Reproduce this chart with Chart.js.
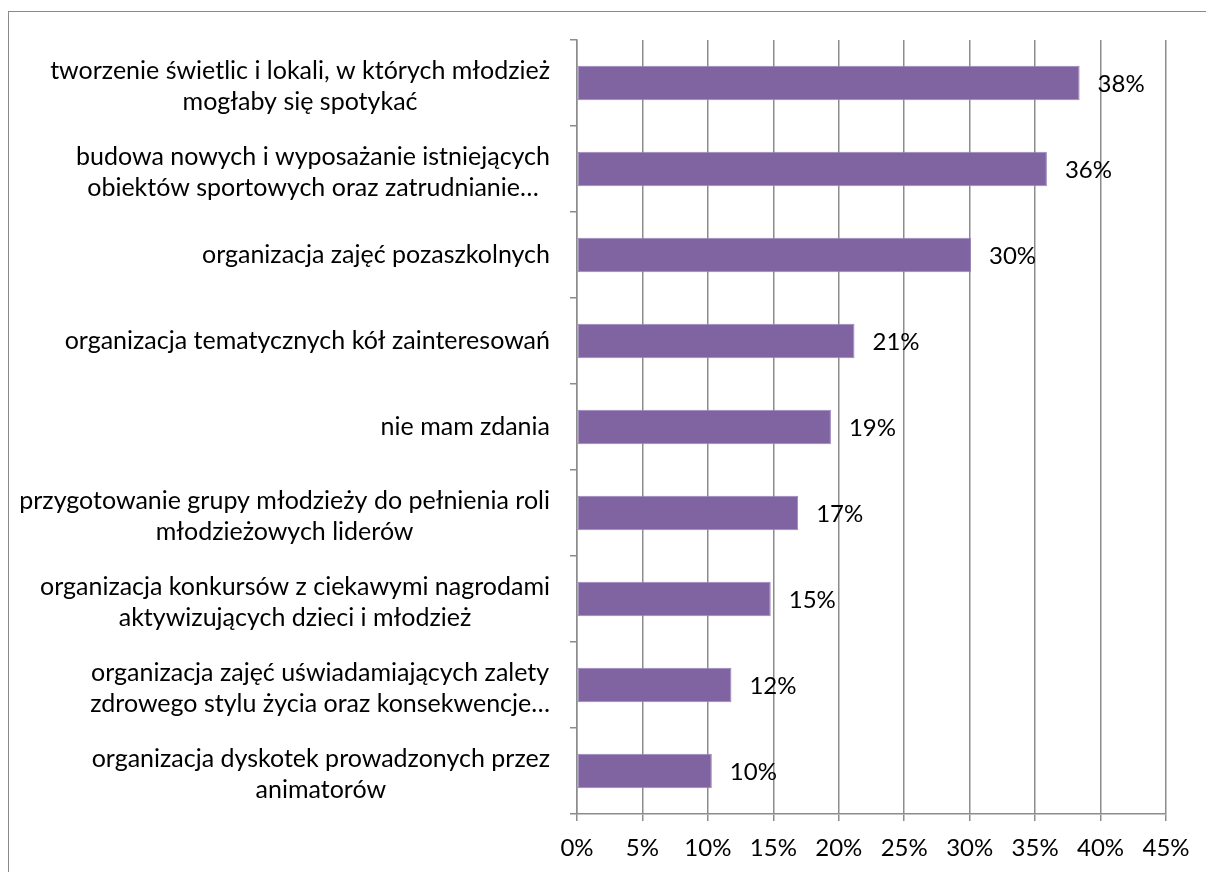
<!DOCTYPE html>
<html>
<head>
<meta charset="utf-8">
<script src="https://cdn.jsdelivr.net/npm/chart.js@4.4.1/dist/chart.umd.min.js"></script>
<style>
  html, body { margin: 0; padding: 0; background: #fff; overflow: hidden; }
  #frame { position: absolute; left: 8px; top: 11px; width: 1400px; height: 1000px; border: 1.5px solid #8a8a8a; }
  #wrap { position: absolute; left: 0; top: 0; width: 1206px; height: 872px; }
</style>
</head>
<body>
<div id="frame"></div>
<div id="wrap"><canvas id="chart"></canvas></div>
<script>
// categories, top to bottom (each entry = label lines)
const categories = [
  ['tworzenie świetlic i lokali, w których młodzież', 'mogłaby się spotykać'],
  ['budowa nowych i wyposażanie istniejących', 'obiektów sportowych oraz zatrudnianie…'],
  ['organizacja zajęć pozaszkolnych'],
  ['organizacja tematycznych kół zainteresowań'],
  ['nie mam zdania'],
  ['przygotowanie grupy młodzieży do pełnienia roli', 'młodzieżowych liderów'],
  ['organizacja konkursów z ciekawymi nagrodami', 'aktywizujących dzieci i młodzież'],
  ['organizacja zajęć uświadamiających zalety', 'zdrowego stylu życia oraz konsekwencje…'],
  ['organizacja dyskotek prowadzonych przez', 'animatorów']
];
const values = [38.4, 35.9, 30.1, 21.2, 19.4, 16.9, 14.8, 11.8, 10.3];
const valueLabels = ['38%', '36%', '30%', '21%', '19%', '17%', '15%', '12%', '10%'];
const xTicks = [0, 5, 10, 15, 20, 25, 30, 35, 40, 45];

const FONT = 'Lato, "Liberation Sans", sans-serif';
const gridColor = '#8c8c8c';

// category labels, Excel style: block right-aligned, lines centred within block
const catLabels = {
  id: 'catLabels',
  afterDraw(chart) {
    const ctx = chart.ctx;
    const ys = chart.scales.y;
    const right = ys.right - 27;
    ctx.save();
    ctx.font = '25px ' + FONT;
    ctx.fillStyle = '#000';
    ctx.textAlign = 'center';
    ctx.textBaseline = 'middle';
    categories.forEach((lines, i) => {
      const cy = ys.getPixelForValue(i);
      const w = Math.max(...lines.map(l => ctx.measureText(l).width));
      const cx = right - w / 2;
      const lh = 31;
      const shift = lines.length > 1 ? 3 : 0;
      lines.forEach((l, j) => {
        ctx.fillText(l, cx, cy + shift - (lines.length - 1) * lh / 2 + j * lh);
      });
    });
    ctx.restore();
  }
};

// value labels right of each bar
const barLabels = {
  id: 'barLabels',
  afterDatasetsDraw(chart) {
    const ctx = chart.ctx;
    const meta = chart.getDatasetMeta(0);
    ctx.save();
    ctx.font = '24px ' + FONT;
    ctx.fillStyle = '#000';
    ctx.textAlign = 'left';
    ctx.textBaseline = 'middle';
    meta.data.forEach((bar, i) => {
      ctx.fillText(valueLabels[i], bar.x + 18, bar.y + 1);
    });
    ctx.restore();
  }
};

new Chart(document.getElementById('chart'), {
  type: 'bar',
  data: {
    labels: categories.map(c => c.join(' ')),
    datasets: [{
      data: values,
      backgroundColor: '#8064a2',
      borderColor: '#9a86ba',
      borderWidth: 1,
      borderSkipped: false,
      categoryPercentage: 1,
      barPercentage: 0.4
    }]
  },
  options: {
    indexAxis: 'y',
    responsive: true,
    maintainAspectRatio: false,
    animation: false,
    layout: { padding: { top: 40, right: 40, left: 0, bottom: 0 } },
    plugins: { legend: { display: false }, tooltip: { enabled: false } },
    scales: {
      x: {
        min: 0,
        max: 45,
        afterBuildTicks: (scale) => { scale.ticks = xTicks.map(v => ({ value: v })); },
        afterFit: (scale) => { scale.height = 58; },
        border: { color: gridColor, width: 1.5 },
        grid: { color: gridColor, lineWidth: 1.5, tickLength: 7 },
        ticks: {
          color: '#000',
          font: { family: FONT, size: 24 },
          padding: 13,
          maxRotation: 0,
          callback: (v) => v + '%'
        }
      },
      y: {
        afterFit: (scale) => { scale.width = 577; },
        border: { color: gridColor, width: 1.5 },
        grid: { color: gridColor, lineWidth: 1.5, drawOnChartArea: false, tickLength: 7, offset: true },
        ticks: { display: false }
      }
    }
  },
  plugins: [catLabels, barLabels]
});
</script>
</body>
</html>
